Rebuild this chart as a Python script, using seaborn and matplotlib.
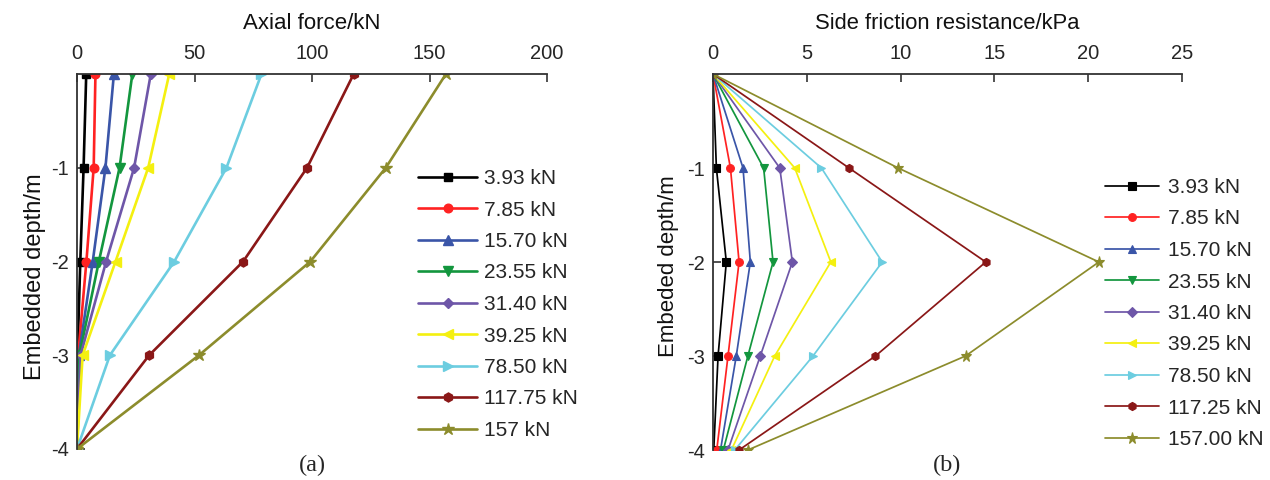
import numpy as np
import pandas as pd
import matplotlib
matplotlib.use("Agg")
import matplotlib.pyplot as plt
import seaborn as sns

# Embedded depth of the measuring sections (m)
depth = [0, -1, -2, -3, -4]

# (a) axial force along the pile (kN) for each load level
axial_labels = ["3.93 kN", "7.85 kN", "15.70 kN", "23.55 kN", "31.40 kN",
                "39.25 kN", "78.50 kN", "117.75 kN", "157 kN"]
axial_3_93 = [3.93, 2.8, 1.4, 0.2, 0.0]
axial_7_85 = [7.85, 7.1, 4.0, 0.5, 0.0]
axial_15_70 = [15.70, 12.1, 6.7, 0.8, 0.0]
axial_23_55 = [23.55, 18.1, 9.3, 1.0, 0.0]
axial_31_40 = [31.40, 24.3, 12.4, 1.5, 0.0]
axial_39_25 = [39.25, 30.3, 16.4, 2.4, 0.0]
axial_78_50 = [78.50, 63.6, 41.4, 14.0, 0.0]
axial_117_75 = [117.75, 97.9, 70.7, 30.7, 0.0]
axial_157 = [157.0, 131.4, 99.3, 51.9, 0.0]

# (b) side friction resistance (kPa) for each load level
friction_labels = ["3.93 kN", "7.85 kN", "15.70 kN", "23.55 kN", "31.40 kN",
                   "39.25 kN", "78.50 kN", "117.25 kN", "157.00 kN"]
fric_3_93 = [0.0, 0.18, 0.71, 0.27, 0.04]
fric_7_85 = [0.0, 0.93, 1.39, 0.80, 0.20]
fric_15_70 = [0.0, 1.60, 1.99, 1.24, 0.40]
fric_23_55 = [0.0, 2.70, 3.20, 1.86, 0.55]
fric_31_40 = [0.0, 3.56, 4.23, 2.52, 0.80]
fric_39_25 = [0.0, 4.36, 6.28, 3.29, 0.98]
fric_78_50 = [0.0, 5.78, 9.02, 5.33, 1.16]
fric_117_25 = [0.0, 7.25, 14.54, 8.66, 1.39]
fric_157_00 = [0.0, 9.87, 20.57, 13.46, 1.86]

axial_series = [axial_3_93, axial_7_85, axial_15_70, axial_23_55, axial_31_40,
                axial_39_25, axial_78_50, axial_117_75, axial_157]
friction_series = [fric_3_93, fric_7_85, fric_15_70, fric_23_55, fric_31_40,
                   fric_39_25, fric_78_50, fric_117_25, fric_157_00]

colors = ["#000000", "#FF2222", "#3A55A8", "#13963E", "#6E56A8",
          "#F4F010", "#6CCDE0", "#8A1717", "#8C8C2C"]
markers = ["s", "o", "^", "v", "D", "<", ">", "h", "*"]
# relative marker size so that every symbol reads at a similar weight
marker_scale = [0.95, 1.0, 1.05, 1.05, 0.9, 1.05, 1.05, 1.05, 1.45]


def long_frame(labels, series, value_name):
    rows = []
    for lab, vals in zip(labels, series):
        for d, v in zip(depth, vals):
            rows.append({"load": lab, "depth": d, value_name: v})
    return pd.DataFrame(rows)


sns.set_theme(style="white")
plt.rcParams["font.family"] = ["Liberation Sans", "DejaVu Sans"]
plt.rcParams["axes.unicode_minus"] = False

fig = plt.figure(figsize=(12.7, 4.8), dpi=100)
ax1 = fig.add_axes([77 / 1270, 1 - 449 / 480, 470 / 1270, 375 / 480])
ax2 = fig.add_axes([713 / 1270, 1 - 450 / 480, 469 / 1270, 376 / 480])

panels = [
    dict(ax=ax1, df=long_frame(axial_labels, axial_series, "value"),
         labels=axial_labels, xlabel="Axial force/kN", xlabel_size=16,
         ylabel="Embedded depth/m", ylabel_size=17, ylabel_xy=(-0.066, 0.46),
         xlim=(0, 200), xticks=[0, 50, 100, 150, 200],
         lw=1.9, ms=6.2, mew=1.0, tag="(a)",
         legpos=(418 / 1270, 1 - 169 / 480), hlen=2.85, tpad=0.3),
    dict(ax=ax2, df=long_frame(friction_labels, friction_series, "value"),
         labels=friction_labels, xlabel="Side friction resistance/kPa",
         xlabel_size=15.8, ylabel="Embeded depth/m", ylabel_size=16,
         ylabel_xy=(-0.072, 0.49), xlim=(0, 25), xticks=[0, 5, 10, 15, 20, 25],
         lw=1.25, ms=5.6, mew=0.8, tag="(b)",
         legpos=(1105 / 1270, 1 - 178 / 480), hlen=2.6, tpad=0.4),
]

for p in panels:
    ax = p["ax"]
    labels = p["labels"]
    sns.lineplot(data=p["df"], x="value", y="depth", hue="load", style="load",
                 hue_order=labels, style_order=labels,
                 palette=dict(zip(labels, colors)),
                 markers=dict(zip(labels, markers)), dashes=False,
                 estimator=None, sort=True, orient="y", legend=False,
                 linewidth=p["lw"], markersize=p["ms"],
                 zorder=3, ax=ax)

    handles = ax.get_lines()[:len(labels)]
    for line, scale in zip(handles, marker_scale):
        line.set_markeredgecolor(line.get_color())
        line.set_markeredgewidth(p["mew"])
        line.set_markersize(p["ms"] * scale)

    ax.set_xlim(*p["xlim"])
    ax.set_ylim(-4, 0)
    ax.set_xticks(p["xticks"])
    ax.set_yticks([-4, -3, -2, -1])
    ax.xaxis.tick_top()
    ax.xaxis.set_label_position("top")
    for side in ("bottom", "right"):
        ax.spines[side].set_visible(False)
    for side in ("top", "left"):
        ax.spines[side].set_color("#333333")
        ax.spines[side].set_linewidth(1.3)
        ax.spines[side].set_zorder(4)
    ax.tick_params(axis="x", which="both", direction="in", length=6, width=1.2,
                   color="#333333", labelsize=14.5, pad=8, top=True, bottom=False)
    ax.tick_params(axis="y", which="both", direction="in", length=6, width=1.2,
                   color="#333333", labelsize=14.5, pad=6, left=True)
    ax.set_xlabel(p["xlabel"], fontsize=p["xlabel_size"], labelpad=11,
                  color="#111111")
    ax.set_ylabel(p["ylabel"], fontsize=p["ylabel_size"], color="#111111")
    ax.yaxis.set_label_coords(*p["ylabel_xy"])
    ax.grid(False)

    ax.legend(handles, labels, loc="upper left", bbox_to_anchor=p["legpos"],
              bbox_transform=fig.transFigure, frameon=False, fontsize=15,
              borderpad=0, borderaxespad=0, handlelength=p["hlen"],
              handletextpad=p["tpad"], labelspacing=0.6)

    bb = ax.get_position()
    fig.text((bb.x0 + bb.x1) / 2, 1 - 465 / 480, p["tag"], ha="center",
             va="center", fontsize=17.5,
             family=["Liberation Serif", "DejaVu Serif"])

fig.savefig("out.png", dpi=100)
